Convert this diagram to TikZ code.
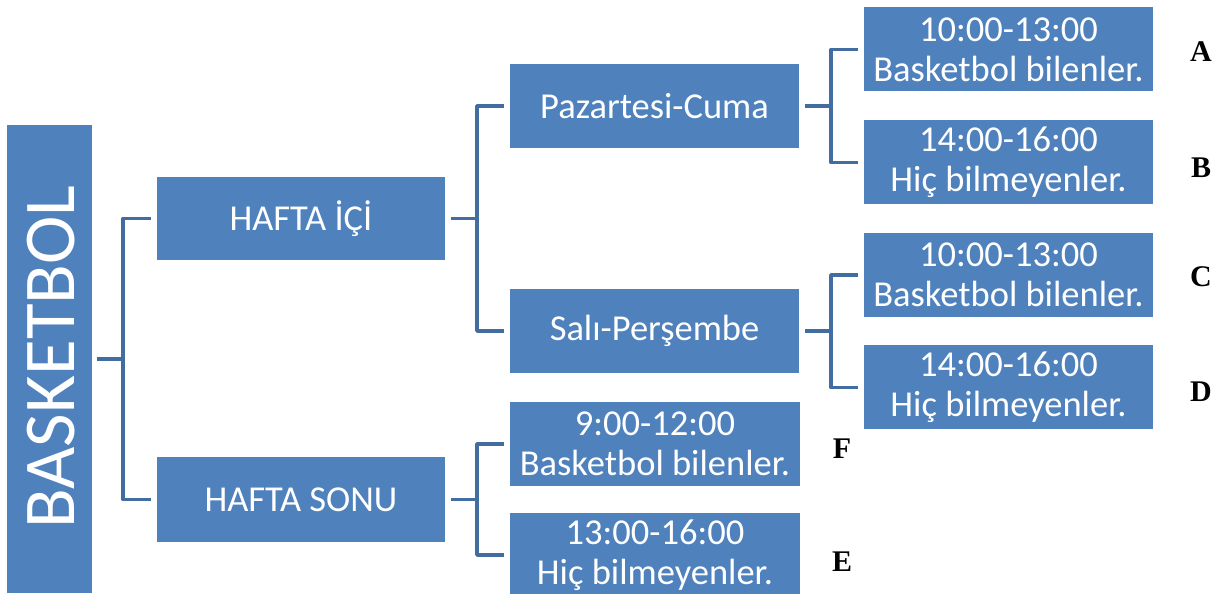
\documentclass[tikz,border=0pt]{standalone}
\usepackage{fontspec}
\setmainfont{Carlito}
\newfontfamily\tnr{Liberation Serif}
\definecolor{boxblue}{RGB}{79,129,189}
\definecolor{lineblue}{RGB}{66,109,160}
\begin{document}
\begin{tikzpicture}[x=1pt,y=1pt,
  box/.style={fill=boxblue, draw=none, text=white, inner sep=0pt, outer sep=6pt,
    minimum width=289pt, minimum height=84pt, align=center,
    font=\fontsize{36.5}{40}\selectfont},
  conn/.style={draw=lineblue, line width=3.5pt, line join=round},
  lab/.style={font=\fontsize{30}{32}\tnr\bfseries\selectfont, text=black, inner sep=0pt}]
\useasboundingbox (0,0) rectangle (1221,594);
\node[box, minimum width=85pt, minimum height=468pt, outer sep=5pt] (root) at (49.5,235) {};
\node[text=white, rotate=90, font=\fontsize{73}{80}\selectfont, inner sep=0pt] (roottext) at (51,237) {BASKETBOL};
\node[box, minimum width=288pt, minimum height=83pt] (hi) at (301,375.5) {HAFTA İÇİ};
\node[box, minimum width=288pt, minimum height=85pt] (hs) at (301,94.5) {HAFTA SONU};
\node[box] (pc) at (654.5,488) {Pazartesi-Cuma};
\node[box] (sp) at (654.5,263) {Salı-Perşembe};
\node[box] (t1) at (1008.5,544.5) {10:00-13:00\\Basketbol bilenler.};
\node[box] (t2) at (1008.5,431.5) {14:00-16:00\\Hiç bilmeyenler.};
\node[box] (t3) at (1008.5,319) {10:00-13:00\\Basketbol bilenler.};
\node[box] (t4) at (1008.5,206.5) {14:00-16:00\\Hiç bilmeyenler.};
\node[box, minimum width=290pt] (w1) at (655,150) {9:00-12:00\\Basketbol bilenler.};
\node[box, minimum width=290pt] (w2) at (655,39) {13:00-16:00\\Hiç bilmeyenler.};
\draw[conn] (root.east) -- ++(26,0) |- (hi.west);
\draw[conn] (root.east) -- ++(26,0) |- (hs.west);
\draw[conn] (hi.east) -- ++(26,0) |- (pc.west);
\draw[conn] (hi.east) -- ++(26,0) |- (sp.west);
\draw[conn] (pc.east) -- ++(26,0) |- (t1.west);
\draw[conn] (pc.east) -- ++(26,0) |- (t2.west);
\draw[conn] (sp.east) -- ++(26,0) |- (t3.west);
\draw[conn] (sp.east) -- ++(26,0) |- (t4.west);
\draw[conn] (hs.east) -- ++(26,0) |- (w1.west);
\draw[conn] (hs.east) -- ++(26,0) |- (w2.west);
\node[lab] (A) at (1201,542) {A};
\node[lab] (B) at (1201,426) {B};
\node[lab] (C) at (1201,317) {C};
\node[lab] (D) at (1201,202) {D};
\node[lab] (F) at (842,145) {F};
\node[lab] (E) at (842,32) {E};
\end{tikzpicture}
\end{document}
